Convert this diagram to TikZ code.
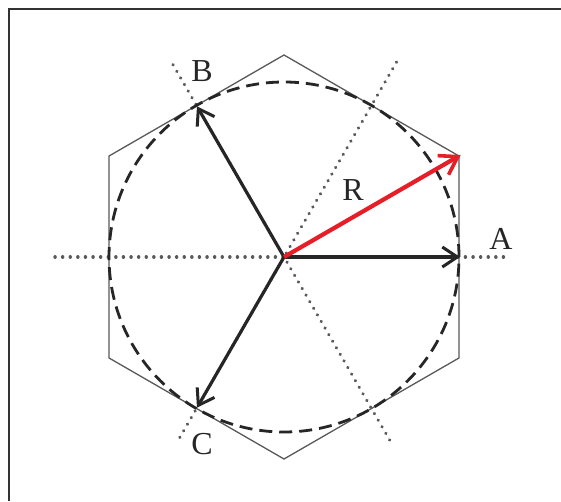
\documentclass[tikz,border=0pt]{standalone}
\usepackage{fontspec}
\setmainfont{Liberation Serif}
\usetikzlibrary{arrows.meta,calc}
\definecolor{redarrow}{RGB}{230,30,40}
\tikzset{
  framestyle/.style={line width=2.4pt, draw=black!80},
  hexstyle/.style={line width=1.3pt, draw=black!65},
  circstyle/.style={line width=2.8pt, draw=black!85, dash pattern=on 13pt off 7pt},
  dotstyle/.style={line width=3.4pt, draw=black!65, line cap=round, dash pattern=on 0.1pt off 7.5pt},
  vecstyle/.style={line width=3.2pt, draw=black!85, -{Straight Barb[length=15pt,width=20pt,line width=3pt]}},
  vecthick/.style={vecstyle, line width=4.4pt},
  redvec/.style={line width=4.2pt, draw=redarrow, -{Straight Barb[length=17pt,width=22pt,line width=3.6pt]}},
  lab/.style={font=\fontsize{32}{35}\selectfont, text=black!85, inner sep=0pt}
}
\begin{document}
\begin{tikzpicture}[x=1pt,y=1pt]
\useasboundingbox (0,0) rectangle (561,501);
\fill[white] (0,0) rectangle (561,501);
\draw[framestyle] (9,0) -- (9,492) -- (561,492);
\coordinate (O) at (284,244);
% dotted axes
\coordinate (H1) at ($(O)+(-229,0)$);
\coordinate (H2) at ($(O)+(226,0)$);
\coordinate (D1a) at ($(O)+(60:225)$);
\coordinate (D1b) at ($(O)+(240:215)$);
\coordinate (D2a) at ($(O)+(120:222)$);
\coordinate (D2b) at ($(O)+(300:213)$);
\draw[dotstyle] (H1) -- (H2);
\draw[dotstyle] (D1a) -- (D1b);
\draw[dotstyle] (D2a) -- (D2b);
% hexagon
\draw[hexstyle] ($(O)+(90:202)$) -- ($(O)+(150:202)$) -- ($(O)+(210:202)$) -- ($(O)+(270:202)$) -- ($(O)+(330:202)$) -- ($(O)+(30:202)$) -- cycle;
% dashed circle
\draw[circstyle] (O) circle[radius=175];
% vectors
\coordinate (A) at ($(O)+(0:176)$);
\coordinate (B) at ($(O)+(120:174)$);
\coordinate (C) at ($(O)+(240:174)$);
\coordinate (Rt) at ($(O)+(30:204)$);
\draw[vecstyle] (O) -- (B);
\draw[vecstyle] (O) -- (C);
\draw[vecthick] (O) -- (A);
\draw[redvec] (O) -- (Rt);
% labels
\node[lab] (lA) at (501,262) {A};
\node[lab] (lB) at (202,430) {B};
\node[lab] (lC) at (202,57) {C};
\node[lab] (lR) at (353,311) {R};
\end{tikzpicture}
\end{document}
